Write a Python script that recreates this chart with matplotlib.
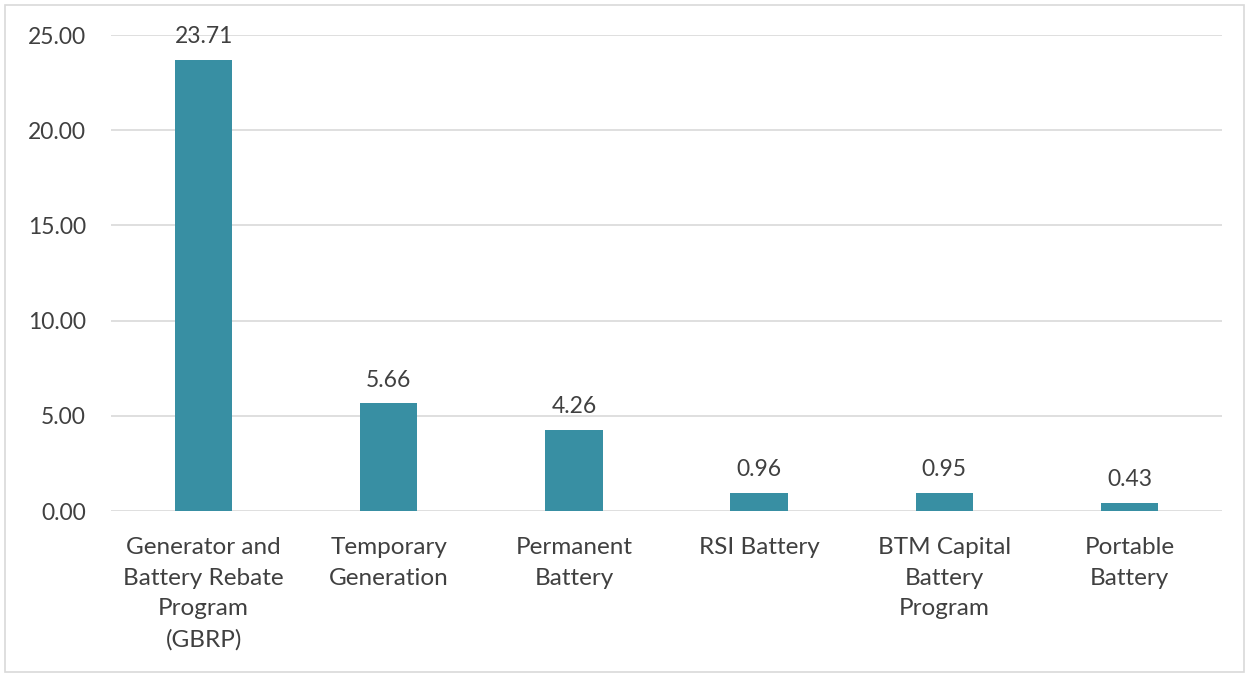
import matplotlib
matplotlib.use("Agg")
import matplotlib.pyplot as plt
from matplotlib.patches import Rectangle

categories = ["Generator and\nBattery Rebate\nProgram\n(GBRP)", "Temporary\nGeneration",
              "Permanent\nBattery", "RSI Battery", "BTM Capital\nBattery\nProgram", "Portable\nBattery"]
values = [23.71, 5.66, 4.26, 0.96, 0.95, 0.43]
yticks = [0, 5, 10, 15, 20, 25]

plt.rcParams['font.family'] = ['Lato', 'DejaVu Sans']
txt = '#404040'
bar_color = '#388fa3'

fig = plt.figure(figsize=(12.49, 6.77), dpi=100)
ax = fig.add_axes([111/1249, 1-511/677, 1111/1249, (511-35)/677])
x = range(len(categories))
ax.bar(x, values, width=0.31, color=bar_color, zorder=3)
ax.set_xlim(-0.5, len(categories)-0.5)
ax.set_ylim(0, 25)
ax.set_yticks(yticks)
ax.set_yticklabels([f"{v:.2f}" for v in yticks], fontsize=16.5, color=txt)
ax.set_xticks(list(x))
ax.set_xticklabels(categories, fontsize=17.5, color=txt, linespacing=1.56, va='top')
ax.tick_params(axis='both', length=0)
ax.tick_params(axis='y', pad=18)
ax.tick_params(axis='x', pad=19)
ax.grid(axis='y', color='#d9d9d9', linewidth=1.2, zorder=0)
for s in ax.spines.values():
    s.set_visible(False)
for xi, v in zip(x, values):
    ax.annotate(f"{v:.2f}", (xi, v), xytext=(0, 9), textcoords='offset points',
                ha='center', va='bottom', fontsize=16.5, color=txt, annotation_clip=False)
fig.patches.append(Rectangle((5/1249, 5/677), 1239/1249, 667/677, transform=fig.transFigure,
                             fill=False, edgecolor='#d9d9d9', linewidth=1.2))
fig.savefig('out.png', dpi=100)
